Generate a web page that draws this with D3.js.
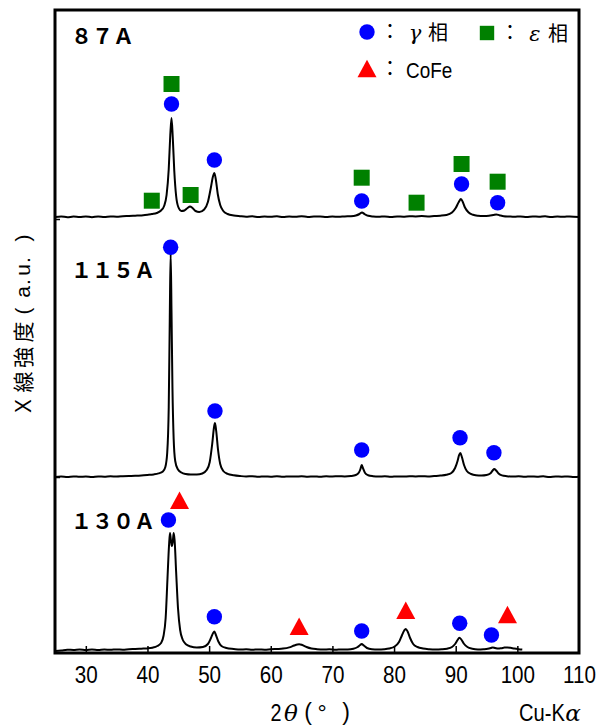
<!DOCTYPE html>
<html><head><meta charset="utf-8">
<script src="https://cdn.jsdelivr.net/npm/d3@7"></script>
<style>html,body{margin:0;padding:0;background:#fff;} svg{display:block;}</style>
</head><body>
<svg id="chart" width="600" height="726"></svg>
<script>
// ---------- data ----------
const xTicks = [30, 40, 50, 60, 70, 80, 90, 100, 110];
const sampleNames = ["８７Ａ", "１１５Ａ", "１３０Ａ"];
const sampleOffsets = [436, 176, 3];           // baseline of each pattern (a.u.)
const leftTickValues = [434, 176];

// [2θ, intensity above baseline] for each sample
const trace87 = [[25,0],[26,0.6],[27,-0.3],[28,0.5],[29,0],[30,0.6],[31,-0.2],[32,0.5],[33,0],[34,0.6],[35,0.3],[36,0.8],[37,1],[38,1.3],[39,1.6],[40,2.2],[40.7,3],[41.5,4],[42.2,6.5],[42.7,11],[43.1,22],[43.45,48],[43.7,82],[43.9,99],[44.1,80],[44.35,46],[44.65,21],[45.0,10],[45.5,6],[46.0,6.5],[46.5,9],[46.9,10.5],[47.3,9],[47.8,6],[48.4,5],[49.2,7.5],[49.8,15],[50.3,30],[50.6,40],[50.85,44],[51.1,37],[51.4,23],[51.8,12],[52.3,6],[53,3],[54,1.5],[55,0.8],[56,0.3],[57,0.7],[58,0],[59,0.5],[60,0.2],[61,0.7],[62,0],[63,0.5],[64,0.2],[65,0.8],[66,0],[67,0.4],[68,0.6],[69,0],[70,0.5],[71,0.2],[72,0.6],[73,0.8],[73.8,1.5],[74.4,3],[74.8,4.5],[75.2,3],[75.8,1.2],[76.6,0.5],[77.5,0.2],[78.5,0.6],[79.5,0],[80.5,0.5],[81.5,0.3],[82.5,0.7],[83.5,0.6],[84.5,0.9],[85.5,0.6],[86.5,1],[87.5,1.3],[88.5,2],[89.4,4.5],[90.0,9],[90.5,15],[90.85,18],[91.15,15],[91.5,9.5],[92.1,4.5],[92.8,2.2],[93.6,1.3],[94.5,1],[95.4,1.2],[96.1,2],[96.6,2.6],[97.1,1.8],[97.8,0.8],[98.6,0.5],[99.5,0.2],[100.5,0.6],[101.5,0],[102.5,0.5],[103.5,0.3],[104.5,0.7],[105.5,0],[106.5,0.5],[107.5,0.2],[108.5,0.6],[110,0]];

const trace115 = [[25,0],[26,0.5],[27,0],[28,0.6],[29,0.2],[30,0.5],[31,0],[32,0.6],[33,0.3],[34,0.7],[35,0.5],[36,0.8],[37,1],[38,1.2],[39,1.5],[40,2],[41,2.6],[41.8,3.6],[42.5,5.5],[42.9,10],[43.2,24],[43.45,70],[43.62,160],[43.76,224],[43.9,165],[44.05,90],[44.25,38],[44.5,16],[44.9,8],[45.5,4.5],[46.2,3],[47,2.5],[48,2.5],[48.9,3.5],[49.6,7],[50.1,15],[50.5,33],[50.8,50],[50.95,54],[51.15,46],[51.45,27],[51.8,13],[52.3,6],[53,3.2],[54,1.8],[55,1],[56,0.5],[57,0.8],[58,0.2],[59,0.6],[60,0.3],[61,0.8],[62,0.2],[63,0.6],[64,0.4],[65,0.8],[66,0.3],[67,0.6],[68,0.2],[69,0.7],[70,0.5],[71,0.8],[72,0.6],[73,1],[73.8,2],[74.3,4.5],[74.55,8],[74.75,12],[74.95,9],[75.3,4],[75.8,1.8],[76.6,0.8],[77.5,0.4],[78.5,0.7],[79.5,0.2],[80.5,0.6],[81.5,0.4],[82.5,0.8],[83.5,0.5],[84.5,0.8],[85.5,0.6],[86.5,1],[87.5,1.4],[88.5,2.2],[89.3,4],[89.9,9],[90.3,16],[90.55,22],[90.75,24],[91.0,20],[91.35,12],[91.8,6],[92.5,3],[93.3,1.8],[94.2,1.5],[95,2],[95.6,3.5],[96.0,6.5],[96.25,8],[96.55,6.5],[96.95,3.5],[97.5,1.6],[98.3,0.8],[99.2,0.4],[100.2,0.8],[101.2,0.2],[102.2,0.6],[103.2,0.3],[104.2,0.7],[105.2,0],[106.2,0.5],[107.2,0.3],[108.2,0.6],[109.2,0],[110,0.3]];

const trace130 = [[25,-1],[26,-0.5],[27,0.3],[28,0],[29,0.5],[30,0],[31,0.4],[32,0],[33,0.5],[34,0.2],[35,0.6],[36,0.3],[37,0.8],[38,1],[39,1.3],[40,1.6],[40.8,2.3],[41.6,4],[42.2,7],[42.6,14],[42.95,32],[43.25,72],[43.5,105],[43.65,117],[43.8,110],[43.95,104],[44.1,108],[44.25,117],[44.4,110],[44.65,78],[44.95,42],[45.3,20],[45.7,10.5],[46.3,5.5],[47,3.5],[48,2.5],[49,3],[49.8,6],[50.3,12],[50.65,17],[50.85,18.5],[51.1,15],[51.5,8.5],[52,4],[52.8,2],[54,1],[55,0.4],[56,0.8],[57,0.2],[58,0.6],[59,0.3],[60,0.7],[61,1],[62,1.4],[63,2.6],[63.8,4.5],[64.3,5.5],[64.6,5.8],[65.1,5],[65.8,3],[66.6,1.5],[67.5,0.8],[68.5,0.4],[69.5,0.7],[70.5,0.2],[71.5,0.6],[72.5,0.5],[73.4,1.2],[74.1,3],[74.5,5],[74.75,6],[75.1,4.5],[75.6,2],[76.4,0.8],[77.4,0.5],[78.4,0.8],[79.2,1.5],[80.1,3.5],[80.8,8],[81.3,15],[81.65,19.5],[81.9,21],[82.2,18.5],[82.6,12],[83.1,6],[83.8,3],[84.7,1.5],[85.7,0.8],[86.7,0.5],[87.7,0.7],[88.6,1.3],[89.4,3],[89.9,6],[90.3,10],[90.6,12.3],[90.9,10.5],[91.3,6.5],[91.9,3],[92.7,1.3],[93.6,0.6],[94.5,0.8],[95.2,1.2],[95.7,2],[96.0,2.6],[96.4,2],[96.9,1.4],[97.4,1.8],[97.9,2.4],[98.4,2.6],[98.9,2.2],[99.5,1.4],[100.2,0.8],[100.8,0.5]];

const traces = [trace87, trace115, trace130];

// markers: [sample index, 2θ, height above baseline]
const gammaMarks = [[0,43.9,113],[0,50.85,57],[0,74.75,16],[0,90.95,33],[0,96.8,14.3],
                    [1,43.76,229.7],[1,50.95,66],[1,74.75,27],[1,90.7,39.3],[1,96.2,24.3],
                    [2,43.4,130],[2,50.85,33.3],[2,74.75,19],[2,90.65,26.7],[2,95.8,15]];
const epsilonMarks = [[0,40.7,16.3],[0,43.9,133],[0,47.0,22],[0,74.75,39.3],[0,83.65,14.3],[0,90.95,53],[0,96.8,35.3]];
const cofeMarks = [[2,45.2,149.3],[2,64.6,23.3],[2,81.9,39.3],[2,98.4,35]];

const legendItems = [
  {kind:"gamma", sym:"γ", name:"相"},
  {kind:"epsilon", sym:"ε", name:"相"},
  {kind:"cofe", sym:"", name:"CoFe"}
];

// ---------- layout ----------
const svg = d3.select("#chart");
const L = 55, R = 579, T = 10, B = 653;
const x = d3.scaleLinear().domain([25, 110]).range([L, R]);
const y = d3.scaleLinear().domain([0, 643]).range([B, T]);

const colors = {gamma:"#0000ff", epsilon:"#008000", cofe:"#ff0000"};
const sans = "'Liberation Sans',Arial,sans-serif";
const cjk = "'Noto Sans CJK JP','Noto Sans',sans-serif";
const serif = "'DejaVu Serif','Liberation Serif',serif";

svg.append("defs").append("clipPath").attr("id","clip")
  .append("rect").attr("x",L).attr("y",T).attr("width",R-L).attr("height",B-T);

// traces
const line = d3.line().curve(d3.curveMonotoneX);
traces.forEach((tr, i) => {
  const off = sampleOffsets[i];
  svg.append("path")
    .attr("clip-path","url(#clip)")
    .attr("d", line(tr.map(d => [x(d[0]), y(off + d[1])])))
    .attr("fill","none").attr("stroke","#000").attr("stroke-width",2)
    .attr("stroke-linejoin","round");
});

// markers
function drawMarker(g, kind, cx, cy, sz) {
  const k = sz || 1;
  if (kind === "gamma") {
    g.append("circle").attr("cx",cx).attr("cy",cy).attr("r",7.7*k).attr("fill",colors.gamma);
  } else if (kind === "epsilon") {
    g.append("rect").attr("x",cx-8*k).attr("y",cy-8*k).attr("width",16*k).attr("height",16*k).attr("fill",colors.epsilon);
  } else {
    const s = 19*k, h = s*Math.sqrt(3)/2;
    g.append("path").attr("d", `M${cx},${cy-h/2-1}L${cx+s/2},${cy+h/2}L${cx-s/2},${cy+h/2}Z`).attr("fill",colors.cofe);
  }
}
const mg = svg.append("g");
gammaMarks.forEach(d => drawMarker(mg, "gamma", x(d[1]), y(sampleOffsets[d[0]] + d[2])));
epsilonMarks.forEach(d => drawMarker(mg, "epsilon", x(d[1]), y(sampleOffsets[d[0]] + d[2])));
cofeMarks.forEach(d => drawMarker(mg, "cofe", x(d[1]), y(sampleOffsets[d[0]] + d[2])));

// frame
svg.append("rect").attr("x",L).attr("y",T).attr("width",R-L).attr("height",B-T)
  .attr("fill","none").attr("stroke","#000").attr("stroke-width",3);

// bottom axis: inward ticks + labels
const xAxis = d3.axisBottom(x).tickValues(xTicks).tickSizeInner(-7).tickSizeOuter(0);
const gx = svg.append("g").attr("transform",`translate(0,${B})`).call(xAxis);
gx.select(".domain").remove();
gx.selectAll(".tick line").attr("stroke","#000").attr("stroke-width",1.5)
  .attr("display", d => d === 110 ? "none" : null);
gx.selectAll(".tick text").attr("font-family",sans).attr("font-size",24).attr("fill","#000")
  .attr("y", 30).attr("dy", 0).attr("transform","scale(0.86,1)");

// left axis inward ticks
const yAxis = d3.axisLeft(y).tickValues(leftTickValues).tickSizeInner(-5).tickSizeOuter(0).tickFormat("");
const gy = svg.append("g").attr("transform",`translate(${L},0)`).call(yAxis);
gy.select(".domain").remove();
gy.selectAll(".tick line").attr("stroke","#000").attr("stroke-width",1.5);

// x axis title: 2θ(° )
const xt = svg.append("g").attr("font-size",23).attr("fill","#000");
xt.append("text").attr("x",276).attr("y",721).attr("text-anchor","middle").attr("font-family",sans)
  .attr("transform","translate(276,0) scale(0.86,1) translate(-276,0)").text("2");
xt.append("text").attr("x",291).attr("y",721).attr("text-anchor","middle").attr("font-family",serif)
  .attr("font-style","italic").text("θ");
xt.append("text").attr("x",308).attr("y",720).attr("text-anchor","middle").attr("font-family",sans).text("(");
xt.append("text").attr("x",322).attr("y",721).attr("text-anchor","middle").attr("font-family",sans).text("°");
xt.append("text").attr("x",346).attr("y",720).attr("text-anchor","middle").attr("font-family",sans).text(")");

// Cu-Kα
svg.append("text").attr("x",0).attr("y",721).attr("font-family",sans).attr("font-size",24)
  .attr("transform","translate(519,0) scale(0.84,1)").text("Cu-K");
svg.append("text").attr("x",573).attr("y",721).attr("text-anchor","middle").attr("font-family",serif)
  .attr("font-style","italic").attr("font-size",23).text("α");

// y axis title
const yt = svg.append("g").attr("transform","translate(31,415) rotate(-90)").attr("font-size",21).attr("fill","#000");
const yChars = [["Ｘ",9,cjk],["線",33,cjk],["強",57.5,cjk],["度",83,cjk],["(",104,sans],["a",123,sans],[".",133,sans],["u",145,sans],[".",155,sans],[")",177,sans]];
yChars.forEach(c => yt.append("text").attr("x",c[1]).attr("y",0).attr("text-anchor","middle")
  .attr("font-family",c[2]).attr("dy", c[2]===sans ? -1 : 0).text(c[0]));

// sample labels
const labelBase = [43.5, 278, 529];
sampleNames.forEach((n,i) => {
  svg.append("text").attr("x",71).attr("y",labelBase[i]).attr("font-family",cjk)
    .attr("font-weight","bold").attr("font-size",21).text(n);
});

// legend
const legendPos = [[367,32],[487,33],[367,69]];
legendItems.forEach((it,i) => {
  const [cx, cy] = legendPos[i];
  drawMarker(svg, it.kind, cx, cy, it.kind === "epsilon" ? 0.9 : 1);
  svg.append("text").attr("x",cx+23).attr("y",cy+7).attr("text-anchor","middle").attr("font-family",cjk)
    .attr("font-size",20).text("：");
  if (it.sym) {
    svg.append("text").attr("x",cx+48).attr("y",cy+8).attr("text-anchor","middle").attr("font-family",serif)
      .attr("font-style","italic").attr("font-size",21).text(it.sym);
    svg.append("text").attr("x",cx+71).attr("y",cy+8).attr("text-anchor","middle").attr("font-family",cjk)
      .attr("font-size",20).text(it.name);
  } else {
    svg.append("text").attr("x",0).attr("y",cy+9).attr("font-family",sans)
      .attr("font-size",22).attr("transform",`translate(${cx+39},0) scale(0.86,1)`).text(it.name);
  }
});
</script>
</body></html>
